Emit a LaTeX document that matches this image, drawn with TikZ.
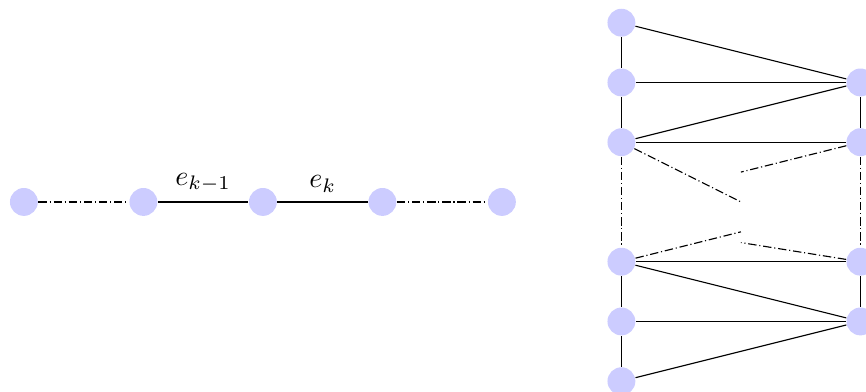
\documentclass[tikz,border=0pt]{standalone}
\usepackage{amsmath}
\usetikzlibrary{positioning}

\begin{document}
\begin{tikzpicture}[
  node distance=1.5cm, on grid,
  vtx/.style={circle, fill=blue!20, minimum size=0.35cm, inner sep=0pt},
  gap/.style={densely dash dot}
]
\useasboundingbox (-0.3,-2.385) rectangle (10.57,2.535);

% the path
\node[vtx] (p1) at (0,0) {};
\node[vtx, right=of p1] (p2) {};
\node[vtx, right=of p2] (p3) {};
\node[vtx, right=of p3] (p4) {};
\node[vtx, right=of p4] (p5) {};

\draw[gap] (p1) -- (p2);
\draw (p2) -- node[above]{$e_{k-1}$} (p3);
\draw (p3) -- node[above]{$e_k$} (p4);
\draw[gap] (p4) -- (p5);

% two columns
\node[vtx] (l1) at (7.5,2.25) {};
\node[vtx, below=0.75cm of l1] (l2) {};
\node[vtx, below=0.75cm of l2] (l3) {};
\node[vtx] (l4) at (7.5,-0.75) {};
\node[vtx, below=0.75cm of l4] (l5) {};
\node[vtx, below=0.75cm of l5] (l6) {};

\node[vtx] (r1) at (10.5,1.5) {};
\node[vtx, below=0.75cm of r1] (r2) {};
\node[vtx] (r3) at (10.5,-0.75) {};
\node[vtx, below=0.75cm of r3] (r4) {};

\foreach \a/\b in {l1/l2,l2/l3,l4/l5,l5/l6,r1/r2,r3/r4,
                   l1/r1,l2/r1,l3/r1,l3/r2,l4/r3,l4/r4,l5/r4,l6/r4}
  \draw (\a) -- (\b);

\draw[gap] (l3) -- (l4);
\draw[gap] (r2) -- (r3);

% broken crossing edges
\coordinate (m1) at (9,0);
\coordinate (m2) at (9,0.375);
\coordinate (m3) at (9,-0.375);
\coordinate (m4) at (9,-0.51);

\draw[gap] (l3) -- (m1);
\draw[gap] (r2) -- (m2);
\draw[gap] (l4) -- (m3);
\draw[gap] (r3) -- (m4);

\end{tikzpicture}
\end{document}
